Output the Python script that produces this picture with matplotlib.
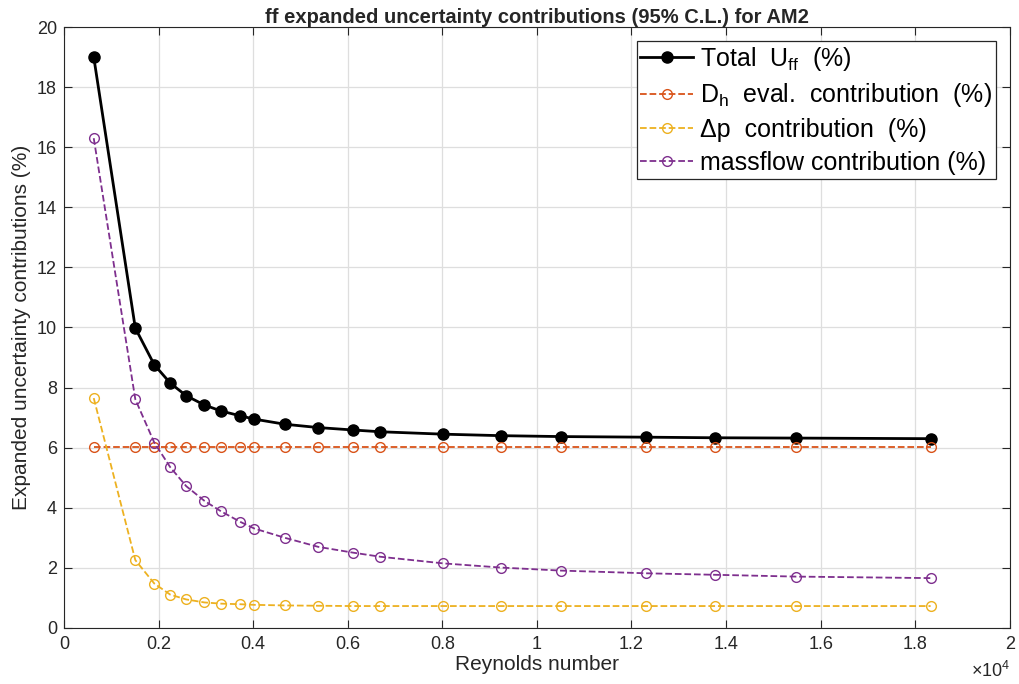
import numpy as np
from matplotlib import pyplot as plt

plt.rcParams['font.family'] = ['Liberation Sans', 'DejaVu Sans']
plt.rcParams['mathtext.fontset'] = 'custom'
plt.rcParams['mathtext.rm'] = 'Liberation Sans'

# data
reynolds = [629, 1508, 1909, 2247, 2584, 2970, 3323, 3730, 4025, 4673, 5376,
            6101, 6692, 8019, 9247, 10504, 12312, 13768, 15485, 18325]
total = [19.0, 9.98, 8.76, 8.15, 7.73, 7.42, 7.22, 7.06, 6.95, 6.78, 6.67,
         6.59, 6.53, 6.45, 6.40, 6.37, 6.35, 6.33, 6.32, 6.30]
dh = [6.03] * len(reynolds)
dp = [7.65, 2.26, 1.48, 1.11, 0.95, 0.85, 0.81, 0.79, 0.77, 0.75, 0.74,
      0.73, 0.73, 0.73, 0.73, 0.73, 0.73, 0.73, 0.73, 0.73]
massflow = [16.3, 7.61, 6.17, 5.35, 4.72, 4.23, 3.88, 3.53, 3.31, 3.00, 2.70,
            2.51, 2.37, 2.15, 2.01, 1.91, 1.82, 1.77, 1.71, 1.66]

fig = plt.figure(figsize=(10.19, 6.84), dpi=100)
ax = fig.add_axes([0.0628, 0.0819, 0.9282, 0.8786])

x = np.array(reynolds) / 1e4
ax.plot(x, total, '-o', color='black', lw=2, ms=8, label='Total  U$_{\\mathregular{ff}}$  (%)')
ax.plot(x, dh, '--o', color='#D95319', lw=1.3, ms=7, mfc='none', label='D$_{\\mathregular{h}}$  eval.  contribution  (%)')
ax.plot(x, dp, '--o', color='#EDB120', lw=1.3, ms=7, mfc='none', label='Δp  contribution  (%)')
ax.plot(x, massflow, '--o', color='#7E2F8E', lw=1.3, ms=7, mfc='none', label='massflow contribution (%)')

ax.set_xlim(0, 2)
ax.set_ylim(0, 20)
ax.set_xticks(np.arange(0, 2.01, 0.2))
ax.set_xticklabels(['0', '0.2', '0.4', '0.6', '0.8', '1', '1.2', '1.4', '1.6', '1.8', '2'])
ax.set_yticks(np.arange(0, 21, 2))
ax.tick_params(direction='in', top=True, right=True, labelsize=13, colors='#262626', length=6)
ax.tick_params(axis='x', pad=6)
ax.tick_params(axis='y', pad=5)
for s in ax.spines.values():
    s.set_color('#262626')
ax.grid(True, color='#dedede', lw=0.9)
ax.set_axisbelow(True)

ax.set_xlabel('Reynolds number', fontsize=15, color='#262626', labelpad=1)
ax.set_ylabel('Expanded uncertainty contributions (%)', fontsize=15, color='#262626', labelpad=4)
ax.set_title('ff expanded uncertainty contributions (95% C.L.) for AM2', fontsize=14.5,
             fontweight='bold', color='#262626', pad=3)
ax.text(1.0, -0.055, '×10$^{\\mathregular{4}}$', transform=ax.transAxes, ha='right', va='top',
        fontsize=13, color='#262626')

leg = ax.legend(loc='upper right', fontsize=18, fancybox=False, framealpha=1,
                edgecolor='#262626', handlelength=2.1, borderpad=0.15, labelspacing=0.35,
                handletextpad=0.3, borderaxespad=0.55)
leg.get_frame().set_linewidth(0.9)

fig.savefig('out.png', dpi=100)
